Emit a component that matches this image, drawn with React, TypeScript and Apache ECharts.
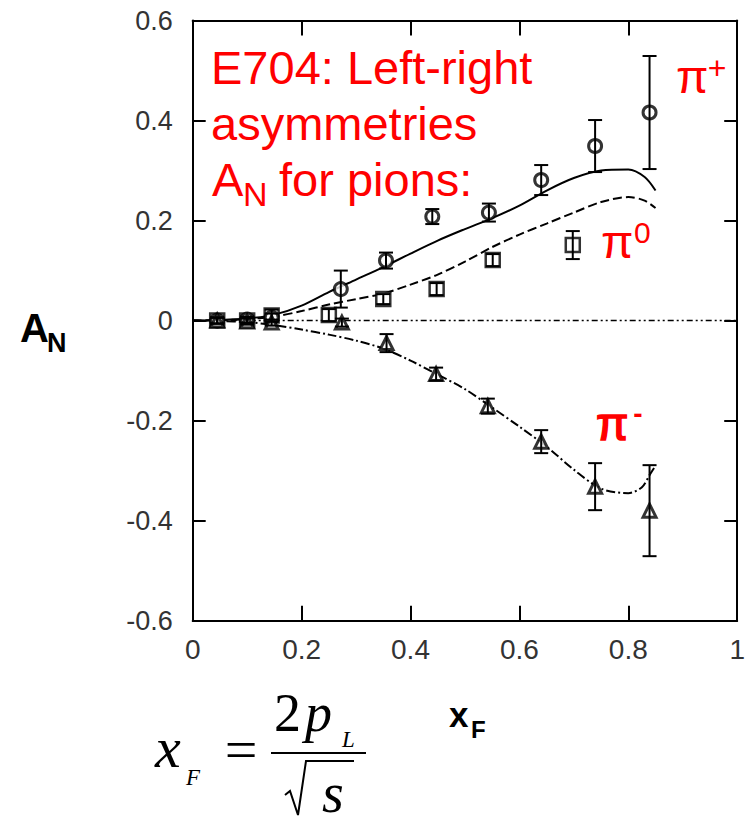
import React, { useEffect, useRef } from "react";
import * as echarts from "echarts";

// ---- axis ticks ----
const xTicks = [0, 0.2, 0.4, 0.6, 0.8, 1];
const yTicks = [-0.6, -0.4, -0.2, 0, 0.2, 0.4, 0.6];

// ---- data: pi+ ----
const piPlusX = [0.045, 0.1, 0.145, 0.272, 0.355, 0.44, 0.544, 0.64, 0.739, 0.839];
const piPlusA = [0.0, 0.002, 0.006, 0.063, 0.12, 0.208, 0.216, 0.281, 0.349, 0.416];
const piPlusErr = [0.006, 0.006, 0.008, 0.037, 0.016, 0.015, 0.018, 0.03, 0.052, 0.113];

// ---- data: pi0 ----
const piZeroX = [0.045, 0.1, 0.145, 0.25, 0.35, 0.448, 0.551, 0.698];
const piZeroA = [0.0, 0.0, 0.01, 0.011, 0.043, 0.063, 0.121, 0.151];
const piZeroErr = [0.006, 0.006, 0.012, 0.012, 0.01, 0.012, 0.012, 0.028];

// ---- data: pi- ----
const piMinusX = [0.045, 0.1, 0.145, 0.274, 0.356, 0.447, 0.542, 0.64, 0.739, 0.839];
const piMinusA = [0.0, -0.002, -0.004, -0.004, -0.045, -0.107, -0.171, -0.242, -0.332, -0.38];
const piMinusErr = [0.006, 0.006, 0.006, 0.008, 0.018, 0.013, 0.015, 0.023, 0.047, 0.091];

// ---- theory curves ----
const curvePlusX = [0, 0.05, 0.1, 0.15, 0.2, 0.25, 0.3, 0.35, 0.4, 0.45, 0.5, 0.55, 0.6, 0.65, 0.7, 0.75, 0.8, 0.83, 0.85];
const curvePlusA = [0, 0.001, 0.004, 0.012, 0.03, 0.057, 0.082, 0.107, 0.134, 0.16, 0.183, 0.205, 0.23, 0.26, 0.285, 0.3, 0.302, 0.287, 0.26];

const curveZeroX = [0, 0.05, 0.1, 0.15, 0.2, 0.25, 0.3, 0.35, 0.4, 0.45, 0.5, 0.55, 0.6, 0.65, 0.7, 0.75, 0.8, 0.83, 0.85];
const curveZeroA = [0, 0.001, 0.003, 0.008, 0.019, 0.032, 0.043, 0.054, 0.072, 0.092, 0.118, 0.147, 0.172, 0.194, 0.216, 0.237, 0.247, 0.24, 0.225];

const curveMinusX = [0, 0.05, 0.1, 0.15, 0.2, 0.25, 0.3, 0.35, 0.4, 0.45, 0.5, 0.55, 0.6, 0.65, 0.7, 0.75, 0.8, 0.825, 0.84, 0.85];
const curveMinusA = [0, -0.001, -0.003, -0.009, -0.018, -0.028, -0.04, -0.056, -0.08, -0.108, -0.137, -0.174, -0.212, -0.252, -0.298, -0.336, -0.345, -0.333, -0.307, -0.29];

const zeroLineX = [0, 1];
const zeroLineA = [0, 0];

const zip = (xs: number[], ys: number[]) => xs.map((x, i) => [x, ys[i]]);
const errData = (xs: number[], ys: number[], es: number[]) =>
  xs.map((x, i) => [x, ys[i] - es[i], ys[i] + es[i]]);

const SANS = "'Liberation Sans', Arial, Helvetica, sans-serif";
const SERIF = "'Liberation Serif', 'Times New Roman', serif";
const RED = "#ff0000";

function txt(text: string, x: number, y: number, fontSize: number, opts: any = {}) {
  const style: any = {
    text,
    fontSize,
    fontFamily: opts.family || SANS,
    fontWeight: opts.weight || "normal",
    fontStyle: opts.style || "normal",
    fill: opts.fill || "#000",
    align: opts.align || "left",
    verticalAlign: "middle",
  };
  if (opts.stroke) {
    style.stroke = opts.stroke;
    style.lineWidth = opts.strokeWidth || 1;
  }
  return { type: "text", x, y, z: 100, style };
}

export default function App() {
  const ref = useRef<HTMLDivElement>(null);

  useEffect(() => {
    if (!ref.current) return;
    const chart = echarts.init(ref.current, null, { renderer: "svg" });

    const errorRender = (params: any, api: any) => {
      const x = api.value(0);
      const lo = api.value(1);
      const hi = api.value(2);
      const p1 = api.coord([x, hi]);
      const p2 = api.coord([x, lo]);
      const hw = 7;
      const st = { stroke: "#000", lineWidth: 2 };
      return {
        type: "group",
        children: [
          { type: "line", shape: { x1: p1[0], y1: p1[1], x2: p2[0], y2: p2[1] }, style: st },
          { type: "line", shape: { x1: p1[0] - hw, y1: p1[1], x2: p1[0] + hw, y2: p1[1] }, style: st },
          { type: "line", shape: { x1: p2[0] - hw, y1: p2[1], x2: p2[0] + hw, y2: p2[1] }, style: st },
        ],
      };
    };

    const axisCommon = {
      type: "value",
      axisLine: { show: true, onZero: false, lineStyle: { color: "#000", width: 2 } },
      splitLine: { show: false },
    };

    const option: any = {
      animation: false,
      backgroundColor: "#fff",
      grid: { left: 192.7, right: 5.3, top: 20.5, bottom: 204.3, containLabel: false },
      xAxis: [
        {
          ...axisCommon,
          position: "bottom",
          min: xTicks[0],
          max: xTicks[xTicks.length - 1],
          interval: 0.2,
          axisTick: { show: true, inside: true, length: 15, lineStyle: { color: "#000", width: 2 } },
          axisLabel: { show: true, margin: 15, fontSize: 28, fontFamily: SANS, color: "#333" },
        },
        {
          ...axisCommon,
          position: "top",
          min: xTicks[0],
          max: xTicks[xTicks.length - 1],
          interval: 0.2,
          axisTick: { show: true, inside: true, length: 15, lineStyle: { color: "#000", width: 2 } },
          axisLabel: { show: false },
        },
      ],
      yAxis: [
        {
          ...axisCommon,
          position: "left",
          min: yTicks[0],
          max: yTicks[yTicks.length - 1],
          interval: 0.2,
          axisTick: { show: true, inside: true, length: 13, lineStyle: { color: "#000", width: 2 } },
          axisLabel: { show: true, margin: 20, fontSize: 27, fontFamily: SANS, color: "#333" },
        },
        {
          ...axisCommon,
          position: "right",
          min: yTicks[0],
          max: yTicks[yTicks.length - 1],
          interval: 0.2,
          axisTick: { show: true, inside: true, length: 13, lineStyle: { color: "#000", width: 2 } },
          axisLabel: { show: false },
        },
      ],
      series: [
        {
          type: "line",
          data: zip(zeroLineX, zeroLineA),
          showSymbol: false,
          lineStyle: { color: "#000", width: 1.5, type: [6, 3, 2, 3, 2, 3] },
          z: 1,
        },
        {
          type: "line",
          data: zip(curvePlusX, curvePlusA),
          showSymbol: false,
          smooth: 0.3,
          lineStyle: { color: "#000", width: 2 },
          z: 2,
        },
        {
          type: "line",
          data: zip(curveZeroX, curveZeroA),
          showSymbol: false,
          smooth: 0.3,
          lineStyle: { color: "#000", width: 2, type: [9, 4] },
          z: 2,
        },
        {
          type: "line",
          data: zip(curveMinusX, curveMinusA),
          showSymbol: false,
          smooth: 0.3,
          lineStyle: { color: "#000", width: 2, type: [9, 3, 2, 3] },
          z: 2,
        },
        {
          type: "scatter",
          data: zip(piZeroX, piZeroA),
          symbol: "rect",
          symbolSize: 14,
          itemStyle: { color: "#fff", borderColor: "#000", borderWidth: 2.5 },
          z: 3,
        },
        {
          type: "scatter",
          data: zip(piPlusX, piPlusA),
          symbol: "circle",
          symbolSize: 13,
          itemStyle: { color: "#fff", borderColor: "#000", borderWidth: 3 },
          z: 4,
        },
        {
          type: "scatter",
          data: zip(piMinusX, piMinusA),
          symbol: "triangle",
          symbolSize: 13,
          itemStyle: { color: "#fff", borderColor: "#000", borderWidth: 3 },
          z: 5,
        },
        { type: "custom", data: errData(piPlusX, piPlusA, piPlusErr), renderItem: errorRender, z: 6 },
        { type: "custom", data: errData(piZeroX, piZeroA, piZeroErr), renderItem: errorRender, z: 6 },
        { type: "custom", data: errData(piMinusX, piMinusA, piMinusErr), renderItem: errorRender, z: 6 },
      ],
      graphic: [
        // red annotation
        txt("E704: Left-right", 211, 67.7, 47, { fill: RED }),
        txt("asymmetries", 211, 123.7, 47, { fill: RED }),
        txt("A", 212, 179.7, 47, { fill: RED }),
        txt("N", 243, 194.2, 34, { fill: RED }),
        txt("for pions:", 279, 179.7, 47, { fill: RED }),
        txt("\u03c0", 676, 76.7, 47, { fill: RED }),
        txt("+", 717, 68, 32, { fill: RED, align: "center" }),
        txt("\u03c0", 601, 241.7, 47, { fill: RED }),
        txt("0", 634, 232.6, 30, { fill: RED }),
        txt("\u03c0", 596, 423.7, 47, { fill: RED, stroke: RED, strokeWidth: 1.5 }),
        txt("-", 638, 413, 28, { fill: RED, align: "center", weight: "bold" }),
        // axis names
        txt("A", 20, 328.1, 40, { weight: "bold" }),
        txt("N", 47, 343, 27, { weight: "bold" }),
        txt("x", 449, 714.9, 35, { weight: "bold" }),
        txt("F", 471, 729.7, 24, { weight: "bold" }),
        // formula x_F = 2 p_L / sqrt(s)
        txt("x", 155, 747.4, 58, { family: SERIF, style: "italic" }),
        txt("F", 186, 777.2, 23, { family: SERIF, style: "italic" }),
        txt("=", 241, 749, 58, { family: SERIF, align: "center" }),
        txt("2", 274, 712.8, 54, { family: SERIF }),
        txt("p", 305, 712.8, 54, { family: SERIF, style: "italic" }),
        txt("L", 342, 739.2, 23, { family: SERIF, style: "italic" }),
        txt("s", 322, 793.1, 56, { family: SERIF, style: "italic" }),
        {
          type: "line",
          z: 100,
          shape: { x1: 271, y1: 753, x2: 366, y2: 753 },
          style: { stroke: "#000", lineWidth: 2 },
        },
        {
          type: "polyline",
          z: 100,
          shape: {
            points: [
              [285, 795],
              [290, 791],
              [298, 815],
              [306, 761],
              [354, 761],
            ],
          },
          style: { stroke: "#000", lineWidth: 2, fill: "none" },
        },
      ],
    };

    chart.setOption(option);
    return () => chart.dispose();
  }, []);

  return (
    <div
      ref={ref}
      style={{ position: "absolute", left: 0, top: 0, width: 748, height: 825, background: "#fff" }}
    />
  );
}
